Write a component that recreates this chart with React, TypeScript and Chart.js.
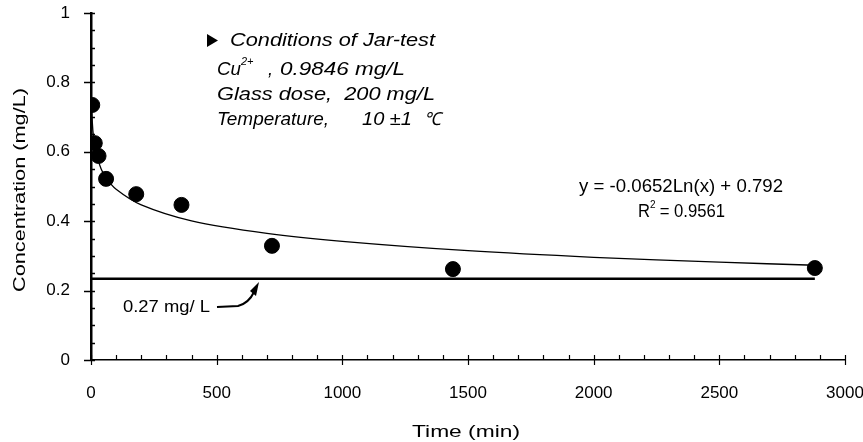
import React, { useEffect, useRef } from "react";
import { Chart, registerables } from "chart.js";

Chart.register(...registerables);

// Measured data (Time in min, Concentration in mg/L)
const timeMin = [5, 15, 30, 60, 180, 360, 720, 1440, 2880];
const concentration = [0.735, 0.625, 0.588, 0.522, 0.478, 0.447, 0.329, 0.262, 0.265];

// Logarithmic trend line
const trendX = [2, 5, 10, 20, 40, 60, 100, 200, 400, 700, 1000, 1500, 2000, 2500, 2880];
const trendY = [0.747, 0.687, 0.642, 0.597, 0.551, 0.525, 0.492, 0.447, 0.401, 0.365, 0.342, 0.315, 0.296, 0.282, 0.273];

// Reference level line
const limitX = [0, 2880];
const limitY = [0.234, 0.234];

const xMajorTicks = [0, 500, 1000, 1500, 2000, 2500, 3000];
const yMajorTicks = [0, 0.2, 0.4, 0.6, 0.8, 1];

const conditionLines = [
  "Conditions of Jar-test",
  "Glass dose,  200 mg/L",
  "Temperature,   10 \u00b11 \u2103",
];
const equationText = "y = -0.0652Ln(x) + 0.792";
const r2Value = " = 0.9561";
const limitLabel = "0.27 mg/ L";

const FONT = "'Liberation Sans', Arial, sans-serif";

const isMultiple = (v: number, step: number) => Math.abs(v / step - Math.round(v / step)) < 1e-6;

const fitText = (ctx: CanvasRenderingContext2D, text: string, x: number, y: number, width: number) => {
  const w = ctx.measureText(text).width;
  ctx.save();
  ctx.translate(x, y);
  ctx.scale(width / w, 1);
  ctx.fillText(text, 0, 0);
  ctx.restore();
};

const decorPlugin = {
  id: "decor",
  afterDraw(chart: any) {
    const ctx = chart.ctx as CanvasRenderingContext2D;
    const xs = chart.scales.x;
    const ys = chart.scales.y;
    const ax = xs.left;
    const ay = ys.bottom;
    ctx.save();
    ctx.strokeStyle = "#000";
    ctx.fillStyle = "#000";

    // y ticks
    ctx.lineWidth = 1.5;
    for (let v = 0; v <= 1.0001; v += 0.05) {
      const py = Math.round(ys.getPixelForValue(v)) + 0.5;
      const major = isMultiple(v, 0.2);
      ctx.beginPath();
      ctx.moveTo(major ? ax - 7 : ax, py);
      ctx.lineTo(ax + 4, py);
      ctx.stroke();
    }
    // x ticks
    ctx.lineWidth = 1.2;
    for (let v = 0; v <= 3000; v += 100) {
      const px = Math.round(xs.getPixelForValue(v)) + 0.5;
      const major = isMultiple(v, 500);
      ctx.beginPath();
      ctx.moveTo(px, ay - 5);
      ctx.lineTo(px, major ? ay + 5 : ay);
      ctx.stroke();
    }

    // axis titles
    ctx.font = `17px ${FONT}`;
    ctx.textAlign = "left";
    ctx.textBaseline = "middle";
    fitText(ctx, "Time (min)", 412, 432, 108);
    ctx.save();
    ctx.translate(20, 292);
    ctx.rotate(-Math.PI / 2);
    fitText(ctx, "Concentration (mg/L)", 0, 0, 204);
    ctx.restore();

    // conditions block
    ctx.font = `italic 18px ${FONT}`;
    ctx.textAlign = "left";
    ctx.beginPath();
    ctx.moveTo(207, 34);
    ctx.lineTo(218, 40.5);
    ctx.lineTo(207, 47);
    ctx.closePath();
    ctx.fill();
    fitText(ctx, conditionLines[0], 230, 41, 205);
    // Cu2+ line
    fitText(ctx, "Cu", 217, 70, 24);
    ctx.font = `italic 11px ${FONT}`;
    ctx.fillText("2+", 241, 62);
    ctx.font = `italic 18px ${FONT}`;
    fitText(ctx, ",", 268, 70, 5);
    fitText(ctx, "0.9846 mg/L", 280, 70, 125);
    fitText(ctx, conditionLines[1], 217, 95, 218);
    fitText(ctx, "Temperature,", 217, 120, 112);
    fitText(ctx, "10 \u00b11", 362, 120, 50);
    fitText(ctx, "\u2103", 424, 120, 17);

    // equation
    ctx.font = `18px ${FONT}`;
    fitText(ctx, equationText, 579, 187, 204);
    fitText(ctx, "R", 638, 212, 12);
    ctx.font = `10px ${FONT}`;
    ctx.fillText("2", 650, 205);
    ctx.font = `18px ${FONT}`;
    fitText(ctx, r2Value, 655, 212, 70);

    // limit label + arrow
    ctx.font = `17px ${FONT}`;
    fitText(ctx, limitLabel, 123, 307, 87);
    ctx.lineWidth = 2;
    ctx.beginPath();
    ctx.moveTo(217, 307);
    ctx.lineTo(238, 306);
    ctx.quadraticCurveTo(249, 303, 254, 292);
    ctx.stroke();
    ctx.beginPath();
    ctx.moveTo(259, 282);
    ctx.lineTo(250, 291);
    ctx.lineTo(256, 296);
    ctx.closePath();
    ctx.fill();

    ctx.restore();
  },
};

export default function App() {
  const canvasRef = useRef<HTMLCanvasElement | null>(null);

  useEffect(() => {
    if (!canvasRef.current) return;
    const chart = new Chart(canvasRef.current, {
      type: "scatter",
      data: {
        datasets: [
          {
            label: "Trend",
            data: trendX.map((x, i) => ({ x, y: trendY[i] })),
            showLine: true,
            borderColor: "#000",
            borderWidth: 1.3,
            pointRadius: 0,
            tension: 0.3,
          },
          {
            label: "Limit",
            data: limitX.map((x, i) => ({ x, y: limitY[i] })),
            showLine: true,
            borderColor: "#000",
            borderWidth: 2.5,
            pointRadius: 0,
          },
          {
            label: "Measured",
            data: timeMin.map((x, i) => ({ x, y: concentration[i] })),
            pointRadius: 7.5,
            pointBackgroundColor: "#000",
            pointBorderColor: "#000",
            showLine: false,
          },
        ],
      },
      options: {
        animation: false,
        responsive: true,
        maintainAspectRatio: false,
        layout: { padding: { top: 13, right: 18, left: 0, bottom: 0 } },
        plugins: { legend: { display: false }, tooltip: { enabled: false } },
        scales: {
          x: {
            type: "linear",
            min: 0,
            max: 3000,
            afterFit: (s: any) => {
              s.height = 82;
              s.paddingLeft = 0;
              s.paddingRight = 0;
            },
            grid: { display: false },
            border: { display: true, color: "#000", width: 1.5 },
            ticks: {
              stepSize: 100,
              autoSkip: false,
              maxRotation: 0,
              padding: 15,
              color: "#000",
              font: { family: FONT, size: 17 },
              callback: (v: any) => (xMajorTicks.includes(Number(v)) ? String(v) : ""),
            },
          },
          y: {
            type: "linear",
            min: 0,
            max: 1,
            afterFit: (s: any) => {
              s.width = 91;
              s.paddingTop = 0;
              s.paddingBottom = 0;
            },
            grid: { display: false },
            border: { display: true, color: "#000", width: 2.5 },
            ticks: {
              stepSize: 0.05,
              autoSkip: false,
              padding: 13,
              color: "#000",
              font: { family: FONT, size: 17 },
              callback: (v: any) => {
                const n = Number(v);
                const hit = yMajorTicks.find((t) => Math.abs(t - n) < 1e-6);
                if (hit === undefined) return "";
                return hit === 0 ? "0" : hit === 1 ? "1" : hit.toFixed(1);
              },
            },
          },
        },
      },
      plugins: [decorPlugin],
    } as any);
    return () => chart.destroy();
  }, []);

  return (
    <div style={{ position: "absolute", left: 0, top: 0, width: 863, height: 442, background: "#fff" }}>
      <canvas ref={canvasRef} />
    </div>
  );
}
